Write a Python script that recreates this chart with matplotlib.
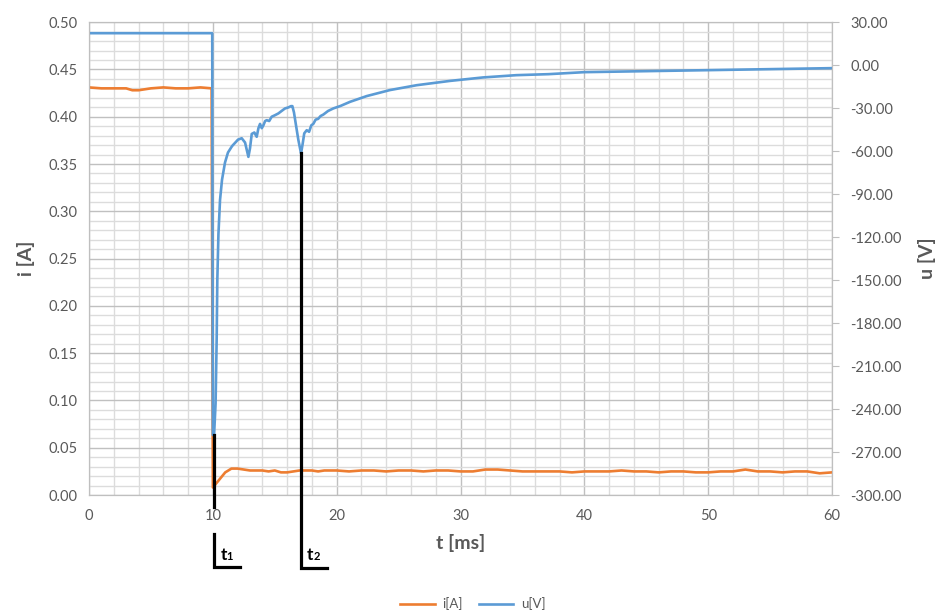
import numpy as np
import matplotlib
matplotlib.use('Agg')
import matplotlib.pyplot as plt
from matplotlib.ticker import MultipleLocator, FormatStrFormatter

plt.rcParams['font.family'] = ['Lato', 'DejaVu Sans']

# current i [A]
t_i = [0, 1, 2, 3, 3.5, 4, 4.5, 5, 6, 7, 8, 9, 9.9,
       10.0, 10.5, 11.0, 11.5, 12.0, 12.5, 13.0, 13.5, 14.0, 14.5, 15.0, 15.5, 16.0, 16.5,
       17.0, 17.5, 18.0, 18.5, 19.0, 19.5, 20, 21, 22, 23, 24, 25, 26, 27, 28, 29, 30,
       31, 32, 33, 34, 35, 36, 37, 38, 39, 40, 41, 42, 43, 44, 45, 46, 47, 48, 49, 50,
       51, 52, 53, 54, 55, 56, 57, 58, 59, 60]
i_val = [0.431, 0.430, 0.430, 0.430, 0.428, 0.428, 0.429, 0.430, 0.431, 0.430, 0.430, 0.431, 0.430,
         0.008, 0.016, 0.024, 0.028, 0.028, 0.027, 0.026, 0.026, 0.026, 0.025, 0.026, 0.024, 0.024, 0.025,
         0.026, 0.026, 0.026, 0.025, 0.026, 0.026, 0.026, 0.025, 0.026, 0.026, 0.025, 0.026, 0.026, 0.025, 0.026, 0.026, 0.025,
         0.025, 0.027, 0.027, 0.026, 0.025, 0.025, 0.025, 0.025, 0.024, 0.025, 0.025, 0.025, 0.026, 0.025, 0.025, 0.024, 0.025, 0.025, 0.024, 0.024,
         0.025, 0.025, 0.027, 0.025, 0.025, 0.024, 0.025, 0.025, 0.023, 0.024]

# voltage u [V]
t_u = [0, 9.95, 10.0, 10.1, 10.22, 10.31, 10.36, 10.45, 10.58, 10.74, 10.98, 11.22, 11.55, 12.03, 12.33,
       12.6, 12.87, 13.0, 13.14, 13.35, 13.54, 13.68, 13.81, 13.95, 14.08, 14.22, 14.35, 14.55, 14.75,
       15.0, 15.29, 15.55, 15.83, 16.1, 16.31, 16.42, 16.55, 16.69, 16.9, 17.12, 17.25, 17.38, 17.58,
       17.77, 17.95, 18.11, 18.3, 18.5, 18.7, 18.92, 19.3, 19.73, 20.3, 21.08, 22.42, 24.3, 26.46,
       29.15, 31.8, 34.5, 37.1, 40, 45, 50, 55, 60]
u_val = [22.3, 22.3, -258, -258, -236, -190, -150, -118, -94, -80, -68, -61, -56.5, -52, -51,
         -54, -64, -58, -48, -47, -50, -44, -41, -44, -42, -39, -38.4, -39, -36,
         -35, -33.7, -32, -30.2, -29.5, -28.6, -28.6, -33, -40.7, -52, -61.6, -55, -47.6, -45.4,
         -46.5, -42, -41, -38, -37.5, -35.5, -34.5, -32, -30.2, -28.5, -25.6, -21.6, -17.4, -14,
         -11, -8.6, -7, -6.3, -4.9, -4.2, -3.5, -2.8, -2.1]

ORANGE = '#ED7D31'
BLUE = '#5B9BD5'
GRAY = '#595959'

fig = plt.figure(figsize=(9.37, 6.15), dpi=100)
fig.set_facecolor('white')
ax = fig.add_axes([0.095, 0.195, 0.793, 0.769])
ax2 = ax.twinx()

l1, = ax.plot(t_i, i_val, color=ORANGE, lw=1.9, label='i[A]')
l2, = ax2.plot(t_u, u_val, color=BLUE, lw=1.9, label='u[V]')

ax.set_xlim(0, 60)
ax.set_ylim(0, 0.5)
ax2.set_ylim(-300, 30)

ax.xaxis.set_major_locator(MultipleLocator(10))
ax.xaxis.set_minor_locator(MultipleLocator(2))
ax.yaxis.set_major_locator(MultipleLocator(0.05))
ax.yaxis.set_minor_locator(MultipleLocator(0.01))
ax.yaxis.set_major_formatter(FormatStrFormatter('%.2f'))
ax2.yaxis.set_major_locator(MultipleLocator(30))
ax2.yaxis.set_major_formatter(FormatStrFormatter('%.2f'))

ax.grid(True, which='major', color='#c0c0c0', lw=1.0)
ax.grid(True, which='minor', color='#dcdcdc', lw=1.0)
ax.set_axisbelow(True)

for a in (ax, ax2):
    for s in a.spines.values():
        s.set_color('#bfbfbf')
    a.tick_params(which='both', colors=GRAY, labelsize=10.5)
ax.tick_params(which='both', length=0, pad=8)
ax.tick_params(axis='x', pad=10)
ax2.tick_params(axis='y', length=5, color='#bfbfbf', pad=8)

ax.set_xlabel('t [ms]', fontsize=14, fontweight='bold', color=GRAY, labelpad=8)
ax.set_ylabel('i [A]', fontsize=14, fontweight='bold', color=GRAY, labelpad=10)
ax2.set_ylabel('u [V]', fontsize=14, fontweight='bold', color=GRAY, rotation=90, labelpad=12)

# t1 / t2 markers
u_min = min(u_val)
k2 = t_u.index(17.12)
ax2.plot([10.1, 10.1], [u_min, -308.5], color='black', lw=2.3, clip_on=False, zorder=5)
ax2.plot([10.1, 10.1, 12.2], [-327.5, -350.3, -350.3], color='black', lw=2.3, clip_on=False,
         solid_joinstyle='miter')
ax2.plot([17.12, 17.12, 19.2], [u_val[k2], -350.8, -350.8], color='black', lw=2.3, clip_on=False,
         zorder=5, solid_joinstyle='miter')
for tx, sub in ((10.6, '1'), (17.6, '2')):
    ax2.text(tx, -345, 't', fontsize=12.5, fontweight='bold', color='black', ha='left', va='baseline')
    ax2.text(tx + 0.5, -345, sub, fontsize=8, fontweight='bold', color='black', ha='left', va='baseline')

fig.legend(handles=[l1, l2], loc='lower center', bbox_to_anchor=(0.505, -0.012), ncol=2,
           frameon=False, fontsize=9.5, labelcolor=GRAY, handlelength=2.6, columnspacing=1.2,
           handletextpad=0.6)

fig.savefig('out.png', dpi=100)
